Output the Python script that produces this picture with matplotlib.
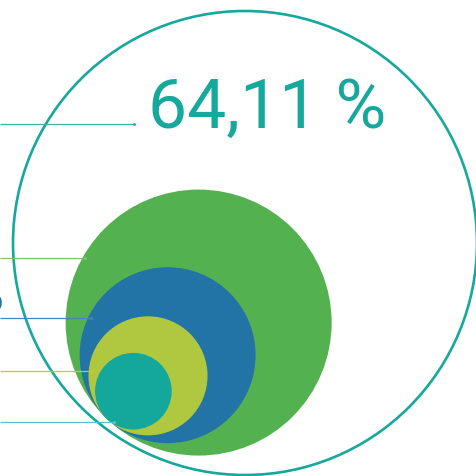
import numpy as np
import matplotlib
matplotlib.use("Agg")
import matplotlib.pyplot as plt
from matplotlib.patches import Circle

# share values (%) - area of each disc proportional to its value
labels = ["Total", "Level 1", "Level 2", "Level 3", "Level 4"]
values = [64.11, 21.07, 9.22, 4.22, 1.75]
colors = ["#15a89c", "#54b14f", "#2274a6", "#b0c840", "#14a89d"]
line_colors = ["#3fb1a8", "#7cc276", "#4b83b4", "#b8cc34", "#5bbfcb"]
main_label = "64,11 %"

W = 477
OUTER_R = 232
OUTER_C = (245, 244)
TANGENT = (107, 420)  # where the nested discs touch
TANGENT_DIR = (0.689, -0.725)
LINE_Y = [125, 259, 319, 372, 423]

fig = plt.figure(figsize=(4.77, 4.77), dpi=100)
ax = fig.add_axes([0, 0, 1, 1])
ax.set_xlim(0, W)
ax.set_ylim(W, 0)
ax.set_aspect("equal")
ax.axis("off")

scale = OUTER_R / np.sqrt(values[0])


def disc(v):
    r = scale * np.sqrt(v)
    return TANGENT[0] + TANGENT_DIR[0] * r, TANGENT[1] + TANGENT_DIR[1] * r, r


ax.add_patch(Circle(OUTER_C, OUTER_R, fill=False, ec=colors[0], lw=1.9))

for v, c in zip(values[1:], colors[1:]):
    cx, cy, r = disc(v)
    ax.add_patch(Circle((cx, cy), r, fc=c, ec="none"))

# leader lines end on the left edge of each disc
ends = [134]
for v, y in zip(values[1:], LINE_Y[1:]):
    cx, cy, r = disc(v)
    dy = y - cy
    ends.append(cx - np.sqrt(max(r * r - dy * dy, 0)) + 3)

for y, x1, c in zip(LINE_Y, ends, line_colors):
    ax.plot([0, x1], [y, y], color=c, lw=0.9, solid_capstyle="butt")
    ax.plot([x1], [y], "o", color=c, ms=2.2, mec="none")

ax.text(148, 128, main_label, color=colors[0], fontsize=50,
        family="Roboto", weight="normal", ha="left", va="baseline")

# cut-off label on the left edge
ax.text(4, 311, "9,22 %", color=colors[2], fontsize=38,
        family="Roboto", weight="normal", ha="right", va="baseline")

fig.savefig("out.png", dpi=100)
